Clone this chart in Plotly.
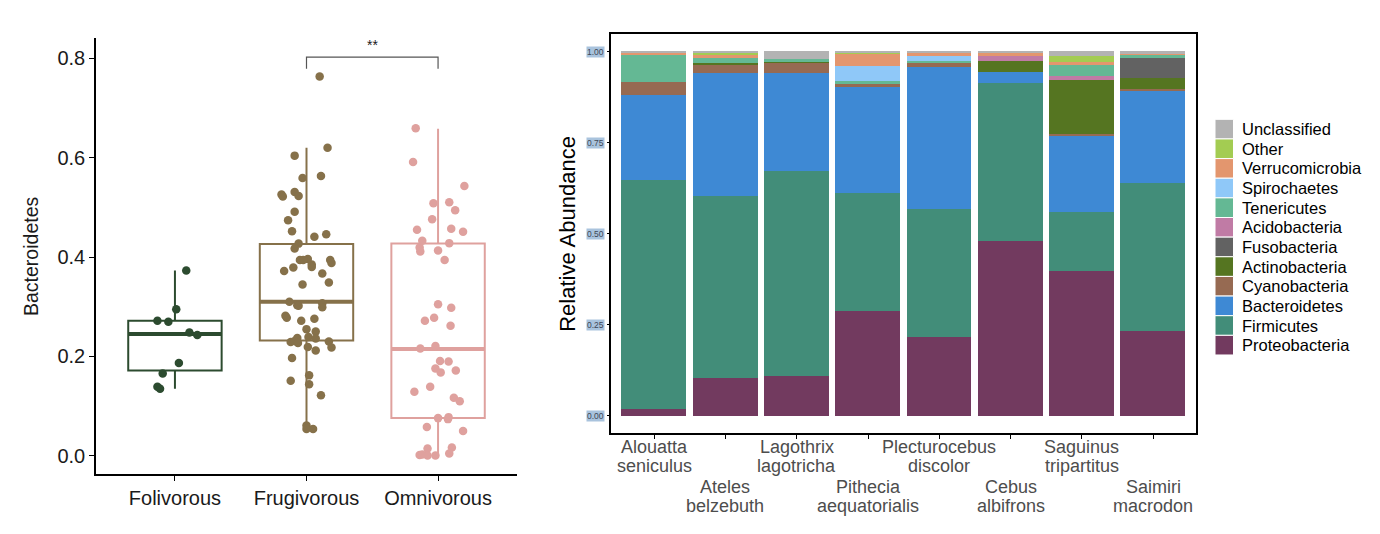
import plotly.graph_objects as go

W, H = 1380, 534
FONT = "Liberation Sans, Arial, Helvetica, sans-serif"

# ---- left panel: Bacteroidetes by diet ----
DIETS = ["Folivorous", "Frugivorous", "Omnivorous"]
DIET_COLORS = ["#2c4b2f", "#86714a", "#dfa19e"]

FOLI_Y = [0.373, 0.295, 0.272, 0.270, 0.248, 0.243, 0.187, 0.166, 0.139, 0.135]
FOLI_JIT = [0.086, 0.01, -0.133, -0.05, 0.11, 0.17, 0.03, -0.093, -0.133, -0.113]

FRUG_Y = [0.763, 0.620, 0.604, 0.563, 0.559, 0.526, 0.522, 0.531, 0.523, 0.491,
          0.474, 0.452, 0.441, 0.446, 0.427, 0.417, 0.394, 0.396, 0.394, 0.385,
          0.380, 0.394, 0.388, 0.379, 0.372, 0.367, 0.345, 0.349, 0.310, 0.303,
          0.302, 0.307, 0.299, 0.282, 0.278, 0.272, 0.276, 0.250, 0.255, 0.239,
          0.237, 0.236, 0.229, 0.231, 0.227, 0.230, 0.218, 0.219, 0.212, 0.197,
          0.162, 0.151, 0.144, 0.122, 0.061, 0.054, 0.054]
FRUG_JIT = [0.10, 0.16, -0.09, 0.11, -0.03, -0.19, -0.18, -0.09, -0.06, -0.09,
            -0.14, -0.11, 0.06, 0.15, -0.06, -0.09, -0.05, 0.01, -0.025, 0.04,
            0.04, 0.18, 0.19, -0.10, -0.17, 0.12, -0.03, 0.17, -0.13, -0.07,
            -0.06, 0.12, 0.12, -0.16, -0.15, -0.04, 0.06, 0.07, 0.0, 0.015,
            -0.07, 0.07, -0.12, -0.09, -0.065, 0.17, 0.19, 0.01, 0.07, -0.11,
            0.02, -0.12, 0.02, 0.11, 0.0, 0.0, 0.05]

OMNI_Y = [0.659, 0.591, 0.543, 0.508, 0.510, 0.494, 0.476, 0.455, 0.457, 0.451,
          0.433, 0.428, 0.419, 0.411, 0.413, 0.394, 0.305, 0.298, 0.278, 0.272,
          0.262, 0.216, 0.221, 0.191, 0.190, 0.176, 0.168, 0.172, 0.139, 0.129,
          0.117, 0.110, 0.076, 0.078, 0.074, 0.058, 0.050, 0.015, 0.017, 0.005,
          0.002, 0.003, 0.001, 0.001]
OMNI_JIT = [-0.17, -0.19, 0.20, -0.035, 0.085, 0.13, -0.045, -0.16, 0.10, 0.19,
            -0.12, 0.085, -0.14, -0.135, 0.0, 0.05, 0.0, 0.10, -0.03, -0.10,
            0.095, -0.135, -0.02, 0.015, 0.08, -0.02, 0.02, 0.135, -0.06, -0.18,
            0.12, 0.165, 0.0, 0.08, 0.075, -0.085, 0.19, -0.08, 0.105, 0.085,
            -0.14, -0.12, -0.08, -0.02]

BOX_Q1 = [0.172, 0.232, 0.076]
BOX_MED = [0.245, 0.310, 0.215]
BOX_Q3 = [0.272, 0.426, 0.427]
BOX_LO = [0.135, 0.052, 0.0]
BOX_HI = [0.373, 0.620, 0.658]
BOX_WIDTH = 0.71

LEFT_YTICKS = [0.0, 0.2, 0.4, 0.6, 0.8]
SIG_PAIR = [1, 2]
SIG_LABEL = "**"

# ---- right panel: relative abundance per species ----
SPECIES = ["Alouatta seniculus", "Ateles belzebuth", "Lagothrix lagotricha",
           "Pithecia aequatorialis", "Plecturocebus discolor", "Cebus albifrons",
           "Saguinus tripartitus", "Saimiri macrodon"]

PROTEOBACTERIA = [0.018, 0.102, 0.109, 0.288, 0.216, 0.480, 0.397, 0.233]
FIRMICUTES = [0.629, 0.501, 0.563, 0.324, 0.352, 0.434, 0.163, 0.406]
BACTEROIDETES = [0.233, 0.339, 0.270, 0.293, 0.390, 0.030, 0.210, 0.255]
CYANOBACTERIA = [0.037, 0.022, 0.027, 0.005, 0.011, 0.0, 0.002, 0.002]
ACTINOBACTERIA = [0.0, 0.003, 0.002, 0.0, 0.002, 0.029, 0.149, 0.030]
FUSOBACTERIA = [0.0, 0.0, 0.0, 0.0, 0.0, 0.0, 0.0, 0.056]
ACIDOBACTERIA = [0.0, 0.0, 0.0, 0.0, 0.0, 0.014, 0.011, 0.0]
TENERICUTES = [0.074, 0.015, 0.009, 0.009, 0.003, 0.0, 0.032, 0.009]
SPIROCHAETES = [0.0, 0.0, 0.0, 0.041, 0.014, 0.0, 0.0, 0.0]
VERRUCOMICROBIA = [0.005, 0.008, 0.0, 0.034, 0.009, 0.010, 0.007, 0.003]
OTHER = [0.0, 0.006, 0.0, 0.004, 0.0, 0.0, 0.017, 0.0]
UNCLASSIFIED = [0.004, 0.004, 0.020, 0.002, 0.003, 0.003, 0.012, 0.006]

# bottom -> top stacking order
PHYLA = [
    ("Proteobacteria", PROTEOBACTERIA, "#723a5f"),
    ("Firmicutes", FIRMICUTES, "#428d79"),
    ("Bacteroidetes", BACTEROIDETES, "#3e89d4"),
    ("Cyanobacteria", CYANOBACTERIA, "#966a52"),
    ("Actinobacteria", ACTINOBACTERIA, "#557521"),
    ("Fusobacteria", FUSOBACTERIA, "#626262"),
    ("Acidobacteria", ACIDOBACTERIA, "#c07ba5"),
    ("Tenericutes", TENERICUTES, "#64b894"),
    ("Spirochaetes", SPIROCHAETES, "#8fc8f8"),
    ("Verrucomicrobia", VERRUCOMICROBIA, "#e3966e"),
    ("Other", OTHER, "#a3cc52"),
    ("Unclassified", UNCLASSIFIED, "#b3b3b3"),
]
RIGHT_YTICKS = [0.0, 0.25, 0.5, 0.75, 1.0]
RIGHT_YTICK_TEXT = ["0.00", "0.25", "0.50", "0.75", "1.00"]

fig = go.Figure()

# left: boxes, thick medians, jittered points
groups = [(FOLI_Y, FOLI_JIT), (FRUG_Y, FRUG_JIT), (OMNI_Y, OMNI_JIT)]
for i, (ys, jit) in enumerate(groups):
    col = DIET_COLORS[i]
    fig.add_trace(go.Box(
        x=[i], q1=[BOX_Q1[i]], median=[BOX_MED[i]], q3=[BOX_Q3[i]],
        lowerfence=[BOX_LO[i]], upperfence=[BOX_HI[i]],
        width=BOX_WIDTH, whiskerwidth=0, boxpoints=False,
        line=dict(color=col, width=2), fillcolor="rgba(255,255,255,0)",
        xaxis="x", yaxis="y", showlegend=False, hoverinfo="skip",
    ))
    fig.add_trace(go.Scatter(
        x=[i - BOX_WIDTH / 2, i + BOX_WIDTH / 2], y=[BOX_MED[i], BOX_MED[i]],
        mode="lines", line=dict(color=col, width=4),
        xaxis="x", yaxis="y", showlegend=False, hoverinfo="skip",
    ))
    fig.add_trace(go.Scatter(
        x=[i + j for j in jit], y=ys, mode="markers",
        marker=dict(color=col, size=8.5, line=dict(width=0)),
        xaxis="x", yaxis="y", showlegend=False,
    ))

# right: stacked bars
for name, vals, col in PHYLA:
    fig.add_trace(go.Bar(
        x=list(range(len(SPECIES))), y=vals, name=name, width=0.91,
        marker=dict(color=col, line=dict(width=0)),
        xaxis="x2", yaxis="y2", showlegend=False,
    ))


def px_x(p):
    return p / W


def px_y(p):
    return 1 - p / H


axis_common = dict(showgrid=False, zeroline=False, showline=True, linecolor="black",
                   ticks="outside", tickcolor="black", automargin=False)

fig.update_layout(
    width=W, height=H,
    margin=dict(l=0, r=0, t=0, b=0),
    paper_bgcolor="white", plot_bgcolor="white",
    font=dict(family=FONT, color="#1a1a1a"),
    barmode="stack", bargap=0,
    xaxis=dict(domain=[px_x(96), px_x(517)], range=[-0.6, 2.6],
               tickvals=[0, 1, 2], ticktext=DIETS, linewidth=1.5, ticklen=5,
               tickwidth=1.3, tickfont=dict(size=20, color="#1a1a1a"), **axis_common),
    yaxis=dict(domain=[px_y(474.3), px_y(38.3)], range=[-0.037, 0.840],
               tickvals=LEFT_YTICKS, tickformat=".1f", linewidth=1.5, ticklen=5,
               tickwidth=1.3, tickfont=dict(size=20, color="#1a1a1a"), **axis_common),
    xaxis2=dict(domain=[px_x(611.3), px_x(1196)], range=[-0.6, 7.6],
                tickvals=list(range(len(SPECIES))), showticklabels=False, mirror=True,
                linewidth=1.5, ticklen=4, tickwidth=1, anchor="y2", **axis_common),
    yaxis2=dict(domain=[px_y(433.3), px_y(34.3)], range=[-0.048, 1.048],
                tickvals=RIGHT_YTICKS, showticklabels=False, mirror=True,
                linewidth=1.5, ticklen=3, tickwidth=1, anchor="x2", **axis_common),
)

ann = [
    dict(text="Bacteroidetes", x=px_x(30.5), y=px_y(256.5), xref="paper", yref="paper",
         xanchor="center", yanchor="middle", textangle=-90, showarrow=False,
         font=dict(size=19.5, color="#1a1a1a")),
    dict(text="Relative Abundance", x=px_x(568), y=px_y(233.8), xref="paper", yref="paper",
         xanchor="center", yanchor="middle", textangle=-90, showarrow=False,
         font=dict(size=22, color="black")),
    dict(text=SIG_LABEL, x=sum(SIG_PAIR) / 2, y=0.826, xref="x", yref="y",
         showarrow=False, font=dict(size=14, color="#1a1a1a")),
]
for v, t in zip(RIGHT_YTICKS, RIGHT_YTICK_TEXT):
    ann.append(dict(text=t, x=px_x(605), y=v, xref="paper", yref="y2", xanchor="right",
                    yanchor="middle", showarrow=False, bgcolor="#a9c3dd", borderpad=0,
                    font=dict(size=8.5, color="#3f4756")))

# staggered two-line species labels under the bars
ROW_Y = [(447.3, 466.3), (486.7, 506.0)]
for k, s in enumerate(SPECIES):
    for line_txt, yy in zip(s.split(" "), ROW_Y[k % 2]):
        ann.append(dict(text=line_txt, x=k, y=px_y(yy), xref="x2", yref="paper",
                        xanchor="center", yanchor="middle", showarrow=False,
                        font=dict(size=18, color="#4d4d4d")))

shapes = [dict(type="path", xref="x", yref="y", line=dict(color="#555555", width=1.2),
               path=f"M {SIG_PAIR[0]},0.779 L {SIG_PAIR[0]},0.802 "
                    f"L {SIG_PAIR[1]},0.802 L {SIG_PAIR[1]},0.779")]

# legend: top entry is the top of the stack
for k, (name, _, col) in enumerate(reversed(PHYLA)):
    top = 119.3 + k * 19.64
    shapes.append(dict(type="rect", xref="paper", yref="paper",
                       x0=px_x(1215), x1=px_x(1233.5), y0=px_y(top + 19.64), y1=px_y(top),
                       fillcolor=col, line=dict(color="white", width=1)))
    ann.append(dict(text=name, x=px_x(1240), y=px_y(top + 9.8), xref="paper", yref="paper",
                    xanchor="left", yanchor="middle", showarrow=False,
                    font=dict(size=16.5, color="black")))

fig.update_layout(annotations=ann, shapes=shapes)

fig.write_html("out.html", config={"displayModeBar": False},
               post_script="document.body.style.margin='0';")
